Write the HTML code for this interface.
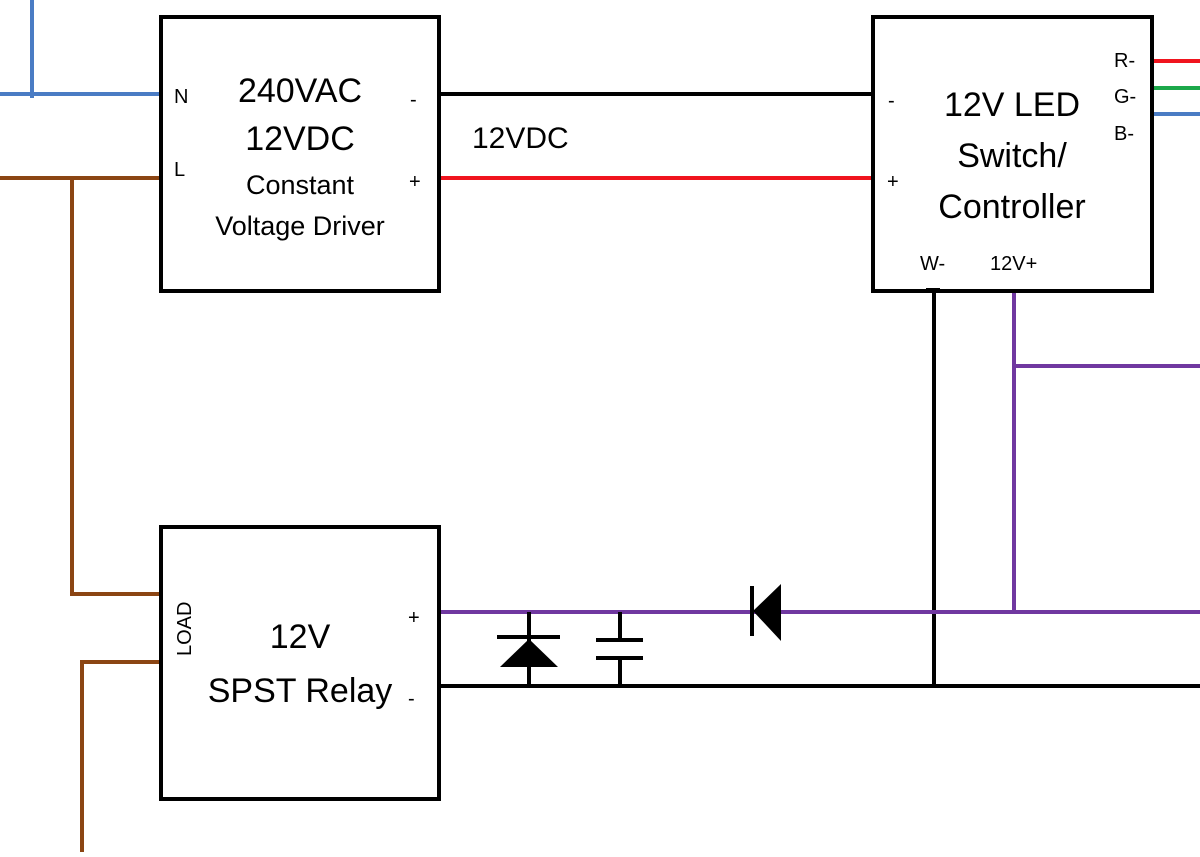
<!DOCTYPE html>
<html><head><style>
body{margin:0;background:#fff;width:1200px;height:852px;overflow:hidden}
svg text{font-family:"Liberation Sans",sans-serif;fill:#000}
</style></head><body>
<svg width="1200" height="852" viewBox="0 0 1200 852">
<g fill="none" stroke-width="4">
<path d="M32 0V98M0 94H160" stroke="#4a7cc4"/>
<path d="M0 178H160M72 178V594H160M82 852V662H160" stroke="#8b4513"/>
<path d="M440 94H872M440 686H1200M934 292V686" stroke="#000"/>
<path d="M440 178H872M1153 61H1200" stroke="#f0141e"/>
<path d="M1153 88H1200" stroke="#1ca84a"/>
<path d="M1153 114H1200" stroke="#4a7cc4"/>
<path d="M440 612H1200M1014 292V612M1014 366H1200" stroke="#7038a0"/>
<rect x="161" y="17" width="278" height="274" stroke="#000"/>
<rect x="873" y="17" width="279" height="274" stroke="#000"/>
<rect x="161" y="527" width="278" height="272" stroke="#000"/>
<path d="M529 612V686M497 637H560M620 612V640M620 658V686M596 640H643M596 658H643M752 586V636M926 290H940" stroke="#000"/>
</g>
<polygon points="529,639 500,667 558,667" fill="#000"/>
<polygon points="753,611 781,584 781,641" fill="#000"/>
<g font-size="34" text-anchor="middle">
<text x="300" y="102">240VAC</text>
<text x="300" y="150">12VDC</text>
<text x="1012" y="116">12V LED</text>
<text x="1012" y="167">Switch/</text>
<text x="1012" y="218">Controller</text>
<text x="300" y="648">12V</text>
<text x="300" y="702">SPST Relay</text>
</g>
<g font-size="27" text-anchor="middle">
<text x="300" y="194">Constant</text>
<text x="300" y="235">Voltage Driver</text>
</g>
<text x="472" y="148" font-size="30">12VDC</text>
<g font-size="20">
<text x="174" y="103">N</text><text x="174" y="176">L</text>
<text x="410" y="106">-</text><text x="409" y="188">+</text>
<text x="888" y="107">-</text><text x="887" y="188">+</text>
<text x="1114" y="67">R-</text><text x="1114" y="103">G-</text><text x="1114" y="140">B-</text>
<text x="920" y="270">W-</text><text x="990" y="270">12V+</text>
<text x="408" y="624">+</text><text x="408" y="705">-</text>
<text transform="translate(191,656) rotate(-90)">LOAD</text>
</g>
</svg>
</body></html>
